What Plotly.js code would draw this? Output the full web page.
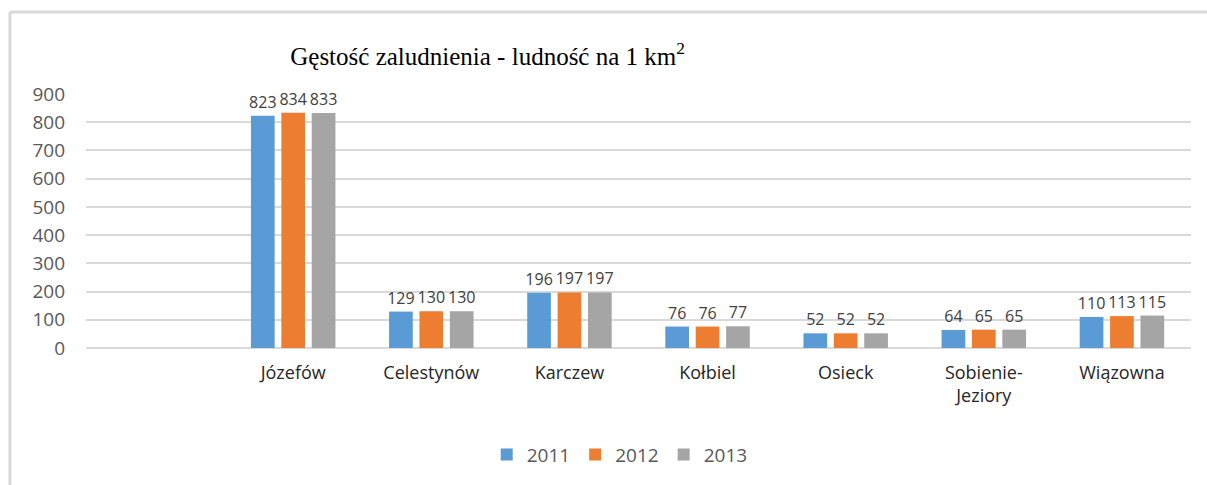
<!DOCTYPE html>
<html>
<head>
<meta charset="utf-8">
<script src="https://cdn.plot.ly/plotly-3.0.1.min.js"></script>
<style>html,body{margin:0;padding:0;background:#fff;}#chart{width:1207px;height:485px;}</style>
</head>
<body>
<div id="chart"></div>
<script>
const categories = ["Józefów", "Celestynów", "Karczew", "Kołbiel", "Osieck", "Sobienie-<br>Jeziory", "Wiązowna"];
const years = ["2011", "2012", "2013"];
const values2011 = [823, 129, 196, 76, 52, 64, 110];
const values2012 = [834, 130, 197, 76, 52, 65, 113];
const values2013 = [833, 130, 197, 77, 52, 65, 115];
const yTicks = [0, 100, 200, 300, 400, 500, 600, 700, 800, 900];
const colors = ["#5b9bd5", "#ed7d31", "#a5a5a5"];

const series = [values2011, values2012, values2013];
const traces = series.map((vals, i) => ({
  type: "bar",
  name: years[i],
  x: categories,
  y: vals,
  marker: {color: colors[i]},
  text: vals.map(v => String(v)),
  textposition: "outside",
  constraintext: "none",
  cliponaxis: false,
  textfont: {family: "Open Sans, sans-serif", size: 16, color: "#404040"},
  hoverinfo: "skip"
}));

const layout = {
  width: 1207,
  height: 485,
  margin: {l: 86, r: 16, t: 94, b: 137},
  paper_bgcolor: "#ffffff",
  plot_bgcolor: "#ffffff",
  barmode: "group",
  bargap: 0.34,
  bargroupgap: 0.22,
  showlegend: true,
  title: {
    text: "Gęstość zaludnienia - ludność na 1 km<sup>2</sup>",
    font: {family: "Liberation Serif, Times New Roman, serif", size: 25, color: "#000000"},
    xref: "container", x: 0.404, xanchor: "center",
    yref: "container", y: 0.885, yanchor: "middle"
  },
  xaxis: {
    type: "category",
    range: [-1.5, 6.5],
    showgrid: false,
    showline: false,
    zeroline: false,
    ticks: "",
    ticklabelstandoff: 12,
    tickfont: {family: "Open Sans, sans-serif", size: 18, color: "#262626"}
  },
  yaxis: {
    range: [0, 900],
    tickvals: yTicks,
    ticktext: yTicks.map(String),
    showgrid: true,
    gridcolor: "#d9d9d9",
    gridwidth: 2,
    zeroline: true,
    zerolinecolor: "#d9d9d9",
    zerolinewidth: 2,
    showline: false,
    ticks: "",
    ticklabelstandoff: 20,
    tickfont: {family: "Open Sans, sans-serif", size: 19, color: "#595959"}
  },
  legend: {
    orientation: "h",
    xref: "paper", x: 0.483, xanchor: "center",
    yref: "paper", y: -0.42, yanchor: "middle",
    font: {family: "Open Sans, sans-serif", size: 19, color: "#595959"},
    itemwidth: 30,
    traceorder: "normal"
  },
  shapes: [
    {type: "line", xref: "paper", yref: "paper", x0: -0.0688, x1: 1.2, y0: 1.3228, y1: 1.3228,
     line: {color: "#d9d9d9", width: 3}},
    {type: "line", xref: "paper", yref: "paper", x0: -0.0688, x1: -0.0688, y0: 1.3228, y1: -0.6,
     line: {color: "#d9d9d9", width: 3}}
  ]
};

Plotly.newPlot("chart", traces, layout, {displayModeBar: false, staticPlot: true});
</script>
</body>
</html>
